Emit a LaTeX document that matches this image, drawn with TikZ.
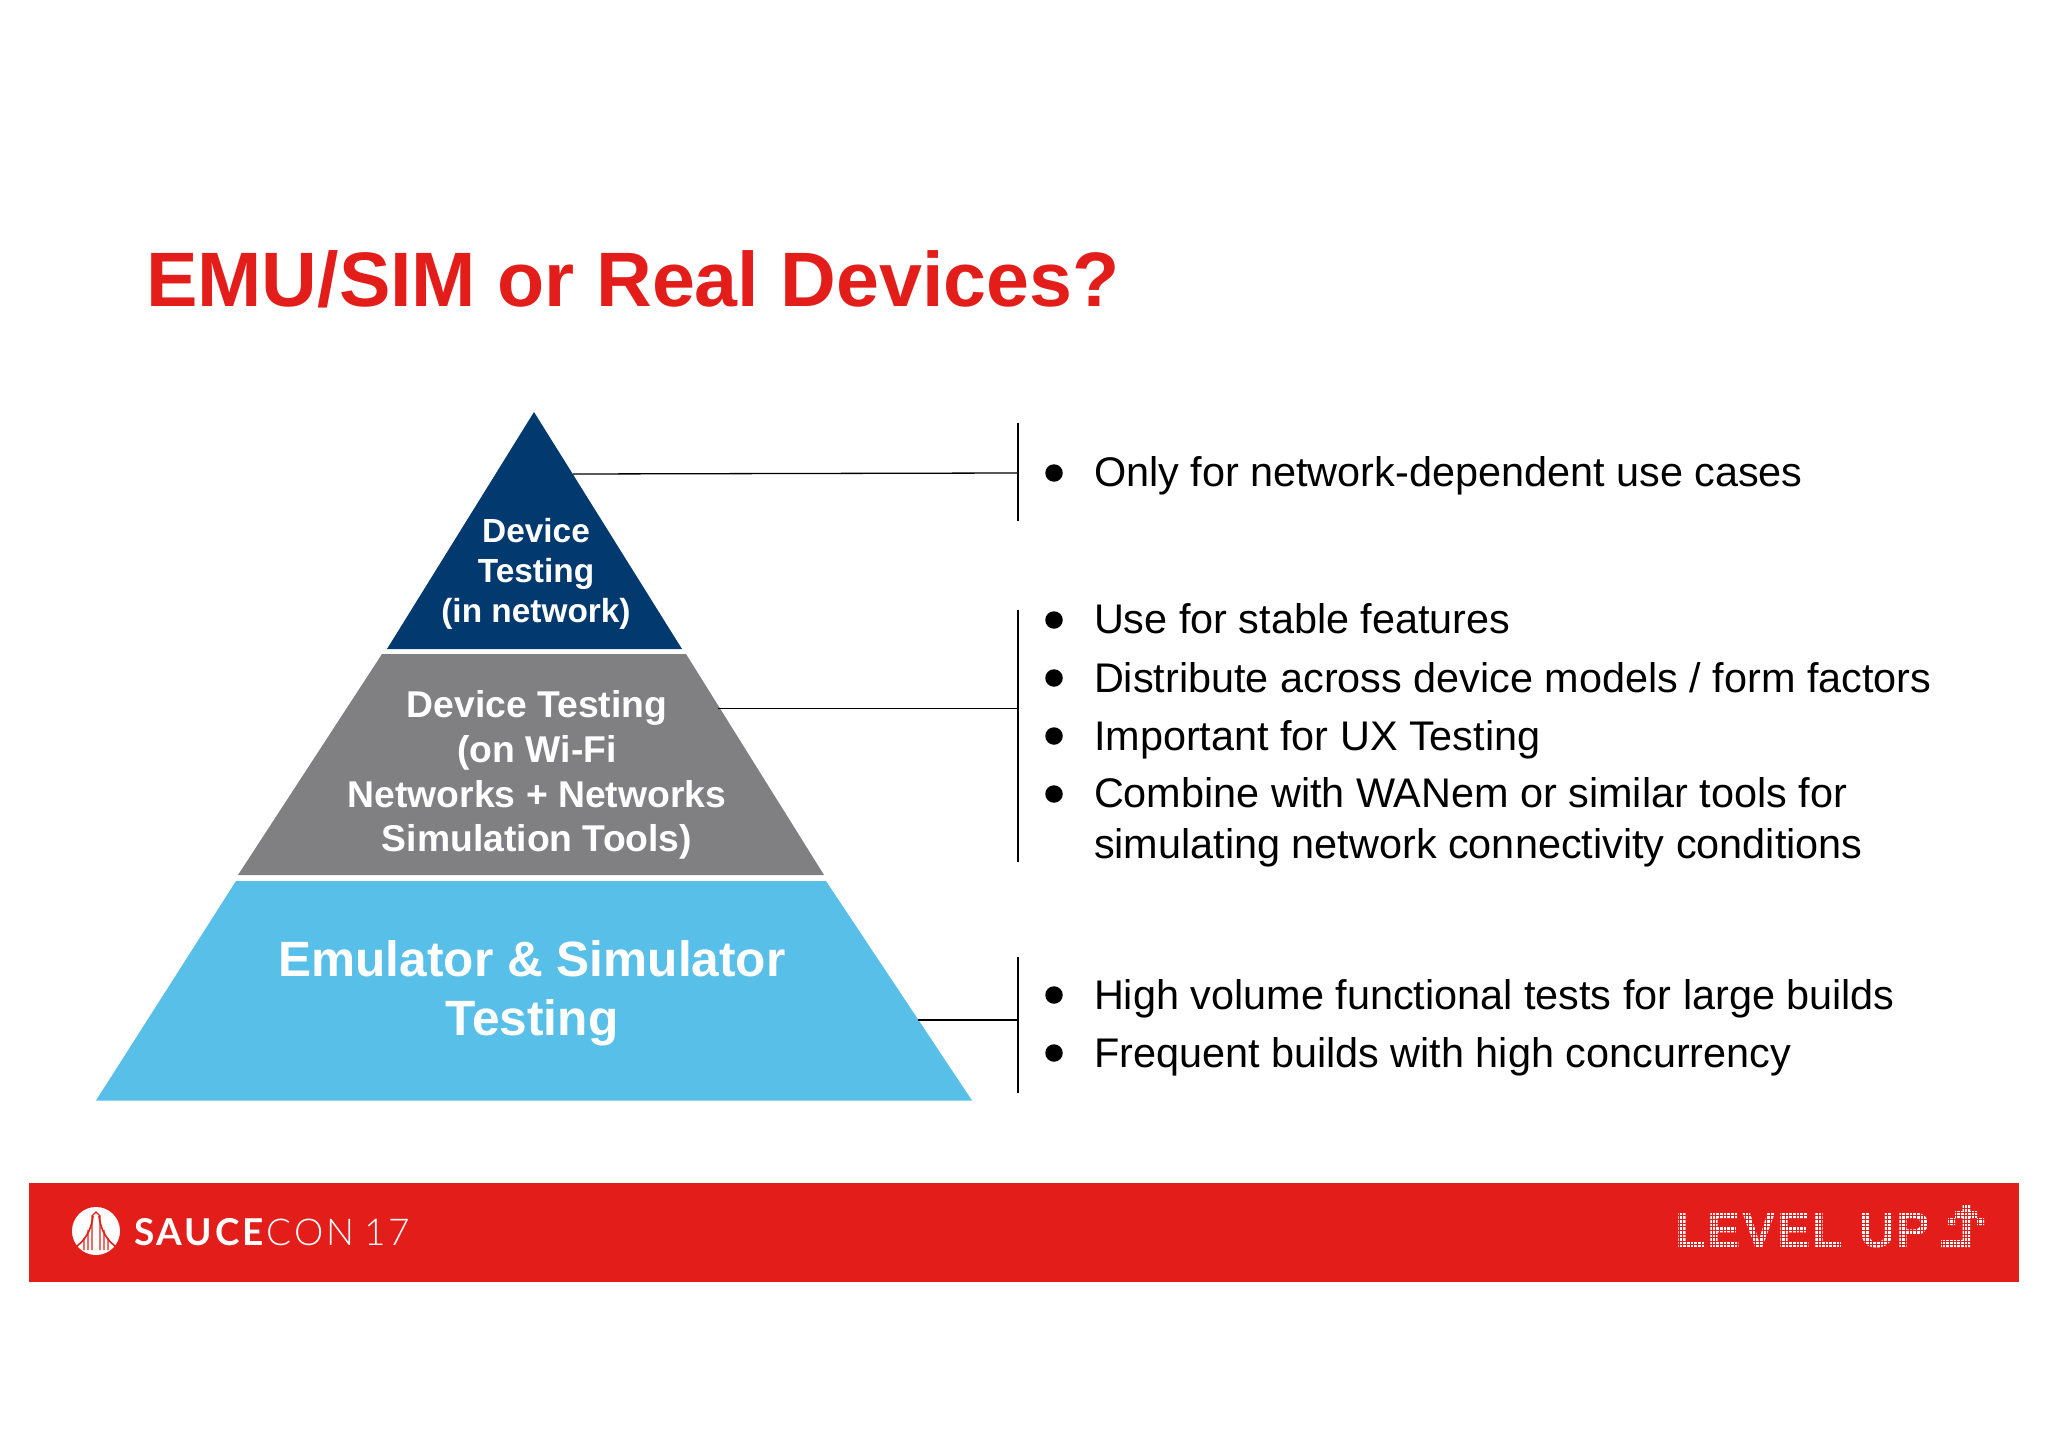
\documentclass[tikz,border=0pt]{standalone}
\usepackage{fontspec}
\setmainfont{Liberation Sans}
\newfontfamily\logoheavy{Lato}[LetterSpace=8]
\newfontfamily\logolight{Lato Light}[LetterSpace=8]
\newfontfamily\levelfont{Liberation Sans}[LetterSpace=3.6]
\begin{document}
\begin{tikzpicture}[x=1pt,y=-1pt,
  tier/.style={inner sep=0, outer sep=0, white, align=center},
  item/.style={inner sep=0, outer sep=0, black, anchor=base west, font=\fontsize{41.4pt}{50pt}\selectfont},
  dot/.style={circle, fill=black, inner sep=0, minimum size=17.5pt},
  rule/.style={line width=1.3pt, black}]
\definecolor{custcol_red}{RGB}{227, 30, 26}
\definecolor{custcol_navy}{RGB}{2, 57, 110}
\definecolor{custcol_grey}{RGB}{128, 127, 130}
\definecolor{custcol_sky}{RGB}{88, 191, 233}
\useasboundingbox (0,0) rectangle (2048,1447);
% heading
\node[inner sep=0, outer sep=0, custcol_red, anchor=base west, font=\fontsize{77.2pt}{77pt}\bfseries\selectfont] (heading) at (146,306) {EMU/SIM or Real Devices?};
% pyramid
\fill [custcol_navy] (534,412) -- (682,649) -- (387,649) -- cycle;
\fill [custcol_grey] (382,654) -- (686,654) -- (824,875) -- (238,875) -- cycle;
\fill [custcol_sky] (236,881) -- (826,881) -- (972,1100.5) -- (96,1100.5) -- cycle;
\node[tier, font=\fontsize{33.4pt}{40pt}\bfseries\selectfont] (top) at (536,574) {Device\\Testing\\(in network)};
\node[tier, font=\fontsize{37.3pt}{44.7pt}\bfseries\selectfont] (middle) at (537,775) {Device Testing\\(on Wi-Fi\\Networks + Networks\\Simulation Tools)};
\node[tier, font=\fontsize{49.6pt}{59pt}\bfseries\selectfont] (bottom) at (532,993) {Emulator \& Simulator\\Testing};
% brackets
\coordinate (bracketAtop) at (1018,423);
\coordinate (bracketAbot) at (1018,521);
\coordinate (tierAedge) at (573,474);
\coordinate (bracketAmid) at (1018,473);
\coordinate (bracketBtop) at (1018,610);
\coordinate (bracketBbot) at (1018,862);
\coordinate (tierBedge) at (718,708.5);
\coordinate (bracketBmid) at (1018,708.5);
\coordinate (bracketCtop) at (1018,957);
\coordinate (bracketCbot) at (1018,1093);
\coordinate (tierCedge) at (918,1020);
\coordinate (bracketCmid) at (1018,1020);
\draw [rule] (bracketAtop) -- (bracketAbot);
\draw [rule] (tierAedge) -- (bracketAmid);
\draw [rule] (bracketBtop) -- (bracketBbot);
\draw [rule] (tierBedge) -- (bracketBmid);
\draw [rule] (bracketCtop) -- (bracketCbot);
\draw [rule] (tierCedge) -- (bracketCmid);
% lists
\node[dot] (dotA) at (1054,473) {};
\node[item] (itemA) at (1094,486) {Only for network-dependent use cases};
\node[dot] (dotB) at (1054,620) {};
\node[item] (itemB) at (1094,633) {Use for stable features};
\node[dot] (dotC) at (1054,678) {};
\node[item] (itemC) at (1094,692) {Distribute across device models / form factors};
\node[dot] (dotD) at (1054,736) {};
\node[item] (itemD) at (1094,750) {Important for UX Testing};
\node[dot] (dotE) at (1054,794) {};
\node[item] (itemE) at (1094,807) {Combine with WANem or similar tools for};
\node[item] (itemF) at (1094,858) {simulating network connectivity conditions};
\node[dot] (dotG) at (1054,995) {};
\node[item] (itemG) at (1094,1009) {High volume functional tests for large builds};
\node[dot] (dotH) at (1054,1053) {};
\node[item] (itemH) at (1094,1067) {Frequent builds with high concurrency};
% footer band
\fill [custcol_red] (29,1183) rectangle (2019,1282);
\fill [white] (96,1231) circle (24);
\draw [line width=1.6pt, custcol_red] (77,1246) .. controls (88,1238) and (92,1225) .. (93,1216) (115,1246) .. controls (104,1238) and (100,1225) .. (99,1216);
\draw [line width=1.2pt, custcol_red] (92,1250) -- (92,1216) -- (96,1212) -- (100,1216) -- (100,1250) (84,1250) -- (84,1238) (88,1250) -- (88,1230) (104,1250) -- (104,1230) (108,1250) -- (108,1238);
\node[inner sep=0, outer sep=0, white, anchor=base west, font=\fontsize{37pt}{37pt}\selectfont] (sauce) at (134,1245) {{\logoheavy\bfseries SAUCE}};
\node[inner sep=0, outer sep=0, white, anchor=base west, font=\fontsize{37pt}{37pt}\selectfont] (con) at ([xshift=3pt]sauce.base east) {{\logolight CON\hspace{-3pt} 17}};
\node[inner sep=0, outer sep=0, white, anchor=base west, font=\fontsize{50pt}{50pt}\bfseries\selectfont] (levelup) at (1675,1247) {{\levelfont LEVEL UP}};
\fill [white] (1962.5,1204) rectangle (1970,1247) (1941,1240) rectangle (1970,1247) (1955,1211) rectangle (1977,1218) (1948,1218) rectangle (1955,1225) (1977,1218) rectangle (1984,1225);
\draw [custcol_red, line width=0.4pt, step=3.65pt] (1670,1200) grid (1990,1250);
\end{tikzpicture}
\end{document}
